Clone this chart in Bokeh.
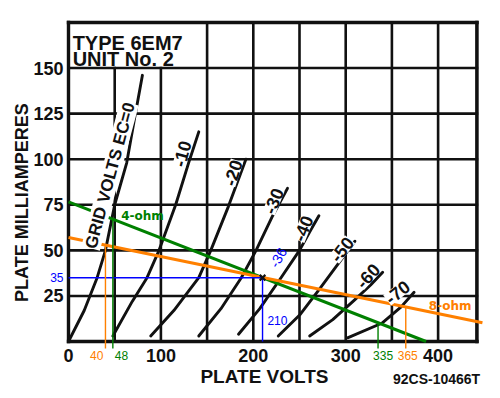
import numpy as np
from bokeh.plotting import figure
from bokeh.models import Range1d, Label
from bokeh.core.properties import value
from bokeh.embed import file_html
from bokeh.resources import INLINE

# ---------------- data ----------------
v_ticks = [0, 100, 200, 300, 400]
i_ticks = [25, 50, 75, 100, 125, 150]
v_grid = [0, 50, 100, 150, 200, 250, 300, 350, 400, 442]
i_grid = [0, 25, 50, 75, 100, 125, 150, 175]
v_max = 442
i_max = 175
box_v = 150   # title box spans 0..150 V
box_i = 150   # and 150..175 mA

# plate characteristics, one list pair per grid voltage
ec0_v = [0, 17, 31, 40, 50, 63, 71, 80]
ec0_i = [0, 17, 35, 50, 75, 98, 121, 146]
ec10_v = [48, 69, 85, 98, 116, 130, 141]
ec10_i = [3, 22, 35, 50, 75, 98, 115]
ec20_v = [89, 114, 141, 154, 173, 192]
ec20_i = [3, 17, 35, 50, 74, 100]
ec30_v = [141, 165, 187, 203, 221, 237]
ec30_i = [3, 18, 35, 50, 69, 84]
ec40_v = [184, 207, 230, 250, 262, 271]
ec40_i = [4, 18, 35, 50, 61, 69]
ec50_v = [227, 251, 272, 291, 310]
ec50_i = [3, 15, 29, 42, 55]
ec60_v = [261, 286, 310, 327, 340]
ec60_i = [3, 12, 23, 31, 38]
ec70_v = [302, 339, 360, 374]
ec70_i = [2, 10, 19, 27]

curve_names = ["GRID VOLTS EC=0", "-10", "-20", "-30", "-40", "-50", "-60", "-70"]
label_v = [45, 123, 178, 222, 254, 296, 324, 356]
label_i = [91, 103, 92.5, 77, 62, 50.5, 36, 27]
label_angle = [75, 75, 72, 68, 68, 52, 48, 38]

# load lines
load4_v = [0, 387]
load4_i = [76.6, 0]
load8_v = [0, 448]
load8_i = [57, 10.3]

# operating point
op_v = 210
op_i = 35
op_bias = "-36"

# marked plate voltages
mark_v = [40, 48, 335, 365]
mark_line = ["8", "4", "4", "8"]

GREEN = "#008000"
ORANGE = "#FF8000"
BLUE = "#0000FF"
INK = "#111111"
FONT = "Liberation Sans"

# ---------------- figure (frame fills the canvas) ----------------
p = figure(width=496, height=394,
           x_range=Range1d(-73.59, 463.2), y_range=Range1d(-29.07, 187.05),
           output_backend="svg", toolbar_location=None,
           x_axis_location=None, y_axis_location=None,
           min_border_left=0, min_border_right=0, min_border_top=0, min_border_bottom=0)
p.grid.visible = False
p.outline_line_color = None
p.background_fill_color = "white"
p.border_fill_color = "white"

# grid
gx_top = [box_i if (0 < v < box_v) else i_max for v in v_grid]
p.segment(x0=v_grid, y0=[0] * len(v_grid), x1=v_grid, y1=gx_top,
          line_color=INK, line_width=2.6, line_cap="square")
p.segment(x0=[0] * len(i_grid), y0=i_grid, x1=[v_max] * len(i_grid), y1=i_grid,
          line_color=INK, line_width=2.6, line_cap="square")
p.segment(x0=[0, v_max, 0, 0], y0=[0, 0, 0, i_max],
          x1=[0, v_max, v_max, v_max], y1=[i_max, i_max, 0, i_max],
          line_color=INK, line_width=3.4, line_cap="square")

# tick labels
p.text(x=v_ticks, y=[-7.7] * len(v_ticks), text=[str(v) for v in v_ticks],
       text_font=value(FONT), text_font_style="bold", text_font_size="18px",
       text_align="center", text_baseline="middle", text_color=INK)
p.text(x=[-5.4] * len(i_ticks), y=i_ticks, text=[str(i) for i in i_ticks],
       text_font=value(FONT), text_font_style="bold", text_font_size="18px",
       text_align="right", text_baseline="middle", text_color=INK)

# axis titles and figure code
p.text(x=[212.1], y=[-19.2], text=["PLATE VOLTS"], text_font=value(FONT),
       text_font_style="bold", text_font_size="19px", text_align="center",
       text_baseline="middle", text_color=INK)
p.text(x=[-50.3], y=[76.2], text=["PLATE MILLIAMPERES"], angle=[90], angle_units="deg",
       text_font=value(FONT), text_font_style="bold", text_font_size="18px",
       text_align="center", text_baseline="middle", text_color=INK)
p.text(x=[398.3], y=[-20.3], text=["92CS-10466T"], text_font=value(FONT),
       text_font_style="bold", text_font_size="14px", text_align="center",
       text_baseline="middle", text_color=INK)

# title box text
p.text(x=[4.5, 4.5], y=[163.7, 155.2], text=["TYPE 6EM7", "UNIT No. 2"],
       text_font=value(FONT), text_font_style="bold",
       text_font_size="20px", text_baseline="alphabetic", text_align="left",
       text_color=INK)

# characteristic curves
curves_v = [ec0_v, ec10_v, ec20_v, ec30_v, ec40_v, ec50_v, ec60_v, ec70_v]
curves_i = [ec0_i, ec10_i, ec20_i, ec30_i, ec40_i, ec50_i, ec60_i, ec70_i]
for cv, ci in zip(curves_v, curves_i):
    p.line(cv, ci, line_color=INK, line_width=2.9, line_cap="round", line_join="round")

for name, lv, li, la in zip(curve_names, label_v, label_i, label_angle):
    p.add_layout(Label(x=lv, y=li, text=name, angle=la, angle_units="deg",
                       text_align="center", text_baseline="middle",
                       text_font=FONT, text_font_style="bold",
                       text_font_size="17px" if name.startswith("GRID") else "18px",
                       text_color=INK,
                       background_fill_color="white", background_fill_alpha=1.0))

# load lines
p.line(load4_v, load4_i, line_color=GREEN, line_width=3)
p.line(load8_v, load8_i, line_color=ORANGE, line_width=3)
p.text(x=[57], y=[69], text=["4-ohm"], text_font=value("DejaVu Sans"),
       text_font_style="bold", text_font_size="12px", text_color=GREEN,
       text_baseline="middle", text_align="left")
p.text(x=[390], y=[19.7], text=["8-ohm"], text_font=value("DejaVu Sans"),
       text_font_style="bold", text_font_size="12px", text_color=ORANGE,
       text_baseline="middle", text_align="left")

# operating point
p.line([0, op_v], [op_i, op_i], line_color=BLUE, line_width=1.4)
p.line([op_v, op_v], [op_i, 0], line_color=BLUE, line_width=1.4)
p.scatter([op_v], [op_i], marker="x", size=8, line_color=INK, line_width=2.2)
p.text(x=[op_v + 2], y=[11.5], text=[str(op_v)], x_offset=[3], text_font=value(FONT),
       text_font_size="12px", text_color=BLUE, text_baseline="middle", text_align="left")
p.text(x=[227], y=[46], text=[op_bias], angle=[60], angle_units="deg",
       text_font=value(FONT), text_font_size="14px", text_color=BLUE,
       text_baseline="middle", text_align="center")
p.text(x=[-5.4], y=[op_i], text=[str(op_i)], text_align="right", text_baseline="middle",
       text_font=value(FONT), text_font_size="12px", text_color=BLUE)

# marker lines at the load-line end points
mark_top = [float(np.interp(v, load8_v, load8_i)) if m == "8" else float(np.interp(v, load4_v, load4_i))
            for v, m in zip(mark_v, mark_line)]
mark_col = [ORANGE if m == "8" else GREEN for m in mark_line]
p.segment(x0=mark_v, y0=mark_top, x1=mark_v, y1=[-3.8] * len(mark_v),
          line_color=mark_col, line_width=1.4)
mark_align = ["right", "left", "center", "center"]
mark_dx = [-2, 2, 5, 2]
p.text(x=mark_v, y=[-7.7] * len(mark_v), text=[str(v) for v in mark_v],
       x_offset=mark_dx, text_align=mark_align, text_baseline="middle",
       text_font=value(FONT), text_font_size="12px", text_color=mark_col)

open("out.html", "w").write(file_html(p, INLINE))
